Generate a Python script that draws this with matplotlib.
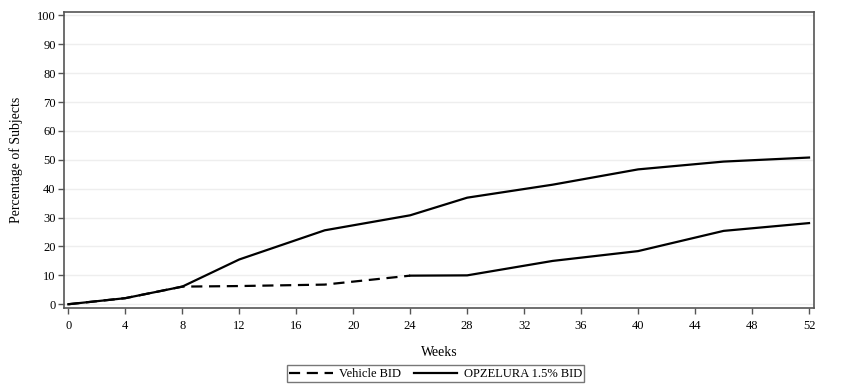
import matplotlib
matplotlib.use("Agg")
import matplotlib.pyplot as plt
from matplotlib.lines import Line2D

plt.rcParams["font.family"] = ["Liberation Serif", "DejaVu Serif"]

# Percentage of subjects by week
WEEKS = [0, 4, 8, 12, 18, 24, 28, 34, 40, 46, 52]
OPZELURA = [0, 2.1, 6.1, 15.5, 25.6, 30.8, 36.9, 41.4, 46.7, 49.4, 50.8]
VEHICLE = [0, 2.1, 6.1, 6.3, 6.8, 9.9, 10.0, 15.0, 18.4, 25.4, 28.1]
CROSSOVER_WEEK = 24  # vehicle subjects switch to OPZELURA here

X_TICKS = list(range(0, 53, 4))
Y_TICKS = list(range(0, 101, 10))
LABELS = ["Vehicle BID", "OPZELURA 1.5% BID"]

fig = plt.figure(figsize=(8.49, 3.91), dpi=100)
ax = fig.add_axes([0.0754, 0.2123, 0.8834, 0.757])

# vehicle period dashed, post-crossover solid
cut = WEEKS.index(CROSSOVER_WEEK)
ax.plot(WEEKS[:cut + 1], VEHICLE[:cut + 1], color="black", linewidth=1.6,
        linestyle=(0, (5, 3)))
ax.plot(WEEKS[cut:], VEHICLE[cut:], color="black", linewidth=1.6)
ax.plot(WEEKS, OPZELURA, color="black", linewidth=1.6)

ax.set_xlim(-0.3, 52.35)
ax.set_ylim(-1.3, 101.2)
ax.set_xticks(X_TICKS)
ax.set_yticks(Y_TICKS)
ax.tick_params(direction="out", length=4, width=1, color="#555555",
               labelsize=9, pad=2)
ax.tick_params(axis="x", pad=5)
ax.yaxis.grid(True, color="#eeeeee", linewidth=1)
ax.set_axisbelow(True)
for side in ax.spines.values():
    side.set_color("#555555")
    side.set_linewidth(1.2)

ax.set_xlabel("Weeks", fontsize=10, labelpad=10)
ax.set_ylabel("Percentage of Subjects", fontsize=10, labelpad=10)

handles = [
    Line2D([], [], color="black", linewidth=1.6, linestyle=(0, (5, 3))),
    Line2D([], [], color="black", linewidth=1.6),
]
leg = fig.legend(handles, LABELS, loc="center", bbox_to_anchor=(0.513, 0.0435),
                 ncol=2, fontsize=9, frameon=True, fancybox=False,
                 handlelength=3.5, columnspacing=1.0, borderpad=0.2,
                 handletextpad=0.5)
leg.get_frame().set_edgecolor("#555555")
leg.get_frame().set_linewidth(1)

fig.savefig("out.png", dpi=100)
